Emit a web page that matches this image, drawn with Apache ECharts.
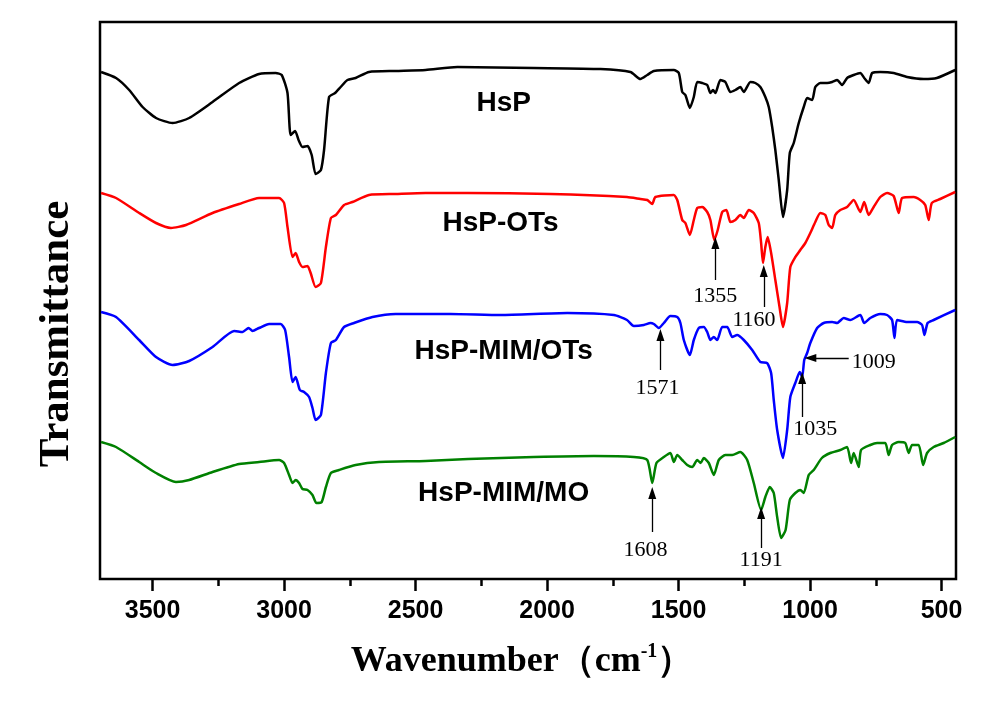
<html>
<head>
    <title>FTIR spectra</title>
    <script src="https://cdn.jsdelivr.net/npm/echarts@6/dist/echarts.min.js"></script>
</head>
<body style="margin:0;background:#fff;">
    <div id="main" style="width:990px;height:702px;"></div>
    <script type="text/javascript">
        // wavenumber (cm-1), transmittance (a.u., curves offset)
        var hsp = [[3696,507],[3639,501],[3589,489],[3538,472],[3487,461],[3424,456],[3361,461],[3272,477],[3171,496],[3095,505],[3032,506],[3009,504],[2987,486],[2975,444],[2958,448],[2945,439],[2930,432],[2911,433],[2895,424],[2880,405],[2860,409],[2848,429],[2829,482],[2806,486],[2785,492],[2759,499],[2728,501],[2677,507],[2576,508],[2462,509],[2341,512],[2051,511],[1797,510],[1683,507],[1645,500],[1619,504],[1594,508],[1518,509],[1499,506],[1486,487],[1474,484],[1457,471],[1442,482],[1429,497],[1410,496],[1391,494],[1379,486],[1369,489],[1360,486],[1341,499],[1322,497],[1303,487],[1284,489],[1265,492],[1252,487],[1227,497],[1208,496],[1189,492],[1170,482],[1157,472],[1144,452],[1132,429],[1119,399],[1103,362],[1087,389],[1077,426],[1062,436],[1043,456],[1024,472],[1011,481],[992,479],[980,492],[961,496],[935,496],[916,497],[897,499],[878,494],[859,501],[834,504],[809,506],[794,501],[777,496],[764,506],[733,507],[682,506],[631,502],[568,500],[518,501],[448,509]];

        var hspOts = [[3696,386],[3639,381],[3551,366],[3487,356],[3430,351],[3373,354],[3272,366],[3171,375],[3095,381],[3019,381],[3000,376],[2987,352],[2968,322],[2956,326],[2943,317],[2930,312],[2911,313],[2899,306],[2880,292],[2860,296],[2841,332],[2822,361],[2803,364],[2772,374],[2740,377],[2677,384],[2576,385],[2462,386],[2303,386],[1987,385],[1696,382],[1645,380],[1619,379],[1600,375],[1588,382],[1518,384],[1505,379],[1486,359],[1474,356],[1457,344],[1442,359],[1429,371],[1410,372],[1391,367],[1379,359],[1364,339],[1351,349],[1334,367],[1318,369],[1303,357],[1284,359],[1265,364],[1252,361],[1233,369],[1214,366],[1195,356],[1186,336],[1179,316],[1170,332],[1161,342],[1148,326],[1132,299],[1116,272],[1103,252],[1087,276],[1075,312],[1056,322],[1037,329],[1018,336],[999,346],[980,357],[961,366],[942,364],[929,354],[916,351],[904,364],[885,369],[859,372],[834,379],[809,367],[794,377],[777,364],[758,372],[733,382],[707,386],[682,383],[663,366],[650,381],[606,382],[581,379],[562,374],[549,359],[537,376],[505,380],[448,387]];

        var hspMimOts = [[3696,267],[3639,262],[3551,239],[3487,222],[3424,214],[3361,218],[3272,232],[3190,248],[3158,247],[3135,251],[3120,248],[3095,251],[3057,255],[3013,255],[2996,249],[2981,222],[2968,197],[2956,202],[2940,189],[2924,187],[2905,182],[2892,171],[2880,159],[2860,164],[2841,206],[2822,236],[2803,239],[2772,252],[2734,256],[2664,262],[2576,265],[2462,265],[2367,265],[2177,264],[1923,266],[1746,264],[1696,259],[1670,253],[1632,254],[1607,256],[1594,255],[1575,251],[1556,256],[1531,263],[1505,262],[1493,256],[1480,239],[1457,224],[1442,239],[1423,251],[1404,252],[1391,247],[1379,239],[1366,242],[1353,239],[1334,252],[1315,252],[1296,242],[1277,244],[1252,239],[1220,229],[1189,217],[1163,216],[1148,206],[1138,179],[1125,149],[1103,121],[1087,149],[1075,182],[1056,196],[1039,207],[1030,202],[1022,219],[1011,226],[999,236],[973,251],[948,256],[916,257],[897,256],[872,261],[847,259],[809,264],[794,256],[771,261],[733,265],[707,264],[688,259],[679,241],[669,259],[631,257],[593,257],[574,254],[565,244],[553,256],[530,259],[448,269]];

        var hspMimMo = [[3696,137],[3639,132],[3551,117],[3487,106],[3411,97],[3361,99],[3272,107],[3171,115],[3095,117],[3019,119],[3000,116],[2981,104],[2968,96],[2956,99],[2943,96],[2930,90],[2911,89],[2892,84],[2877,76],[2857,77],[2841,92],[2822,106],[2791,109],[2728,114],[2639,117],[2462,118],[2300,120],[2050,122],[1822,123],[1670,122],[1619,119],[1600,96],[1584,116],[1556,122],[1531,126],[1518,117],[1505,124],[1486,119],[1467,114],[1448,112],[1429,119],[1416,116],[1404,121],[1385,116],[1366,104],[1347,119],[1322,124],[1296,124],[1265,127],[1239,119],[1214,96],[1186,69],[1170,82],[1153,92],[1138,86],[1125,62],[1110,41],[1093,49],[1077,79],[1056,86],[1037,89],[1024,86],[1005,104],[986,109],[955,121],[923,126],[885,129],[859,132],[844,116],[834,126],[815,112],[806,129],[771,134],[745,136],[714,136],[701,124],[688,134],[663,137],[638,136],[625,126],[612,134],[587,134],[570,114],[555,126],[530,132],[492,136],[448,142]];

        var curveNames = ['HsP', 'HsP-OTs', 'HsP-MIM/OTs', 'HsP-MIM/MO'];
        var curveColors = ['#000000', '#ff0000', '#0000ff', '#008000'];
        var nameSpots = [[2165, 476], [2177, 356], [2165, 228], [2165, 86]];

        var majorTicks = [500, 1000, 1500, 2000, 2500, 3000, 3500];
        var minorTicks = [750, 1250, 1750, 2250, 2750, 3250];

        // peak marks: label text, arrow tail, arrow tip, label centre
        var peakText = ['1355', '1160', '1571', '1009', '1035', '1608', '1191'];
        var peakTail = [[1360, 299], [1176, 272], [1569, 209], [853, 221], [1030, 162], [1600, 47], [1186, 31]];
        var peakTip = [[1360, 336], [1176, 308], [1569, 244], [999, 221], [1030, 201], [1600, 86], [1186, 66]];
        var peakAt = [[1360, 283], [1213, 259], [1580, 191], [758, 217], [980, 150], [1626, 29], [1186, 19]];

        var serif = '"Liberation Serif", "Times New Roman", serif';
        var sans = '"Liberation Sans", Arial, sans-serif';

        var myChart = echarts.init(document.getElementById('main'));

        var curves = [hsp, hspOts, hspMimOts, hspMimMo];
        var series = curves.map(function (d, i) {
            return {
                type: 'line',
                name: curveNames[i],
                data: d,
                symbol: 'none',
                smooth: 0.2,
                silent: true,
                lineStyle: { color: curveColors[i], width: 2.5, join: 'round' },
                itemStyle: { color: curveColors[i] },
                markPoint: {
                    symbol: 'circle',
                    symbolSize: 0,
                    silent: true,
                    label: {
                        show: true, position: 'inside', formatter: '{b}', color: '#000',
                        fontFamily: sans, fontWeight: 'bold', fontSize: 28
                    },
                    data: [{ name: curveNames[i], coord: nameSpots[i] }]
                }
            };
        });

        var arrowData = [];
        var peakLabelData = [];
        for (var i = 0; i < peakText.length; i++) {
            arrowData.push([
                { coord: peakTail[i], symbol: 'none' },
                { coord: peakTip[i], symbol: 'triangle', symbolSize: [8, 12] }
            ]);
            peakLabelData.push({ name: peakText[i], coord: peakAt[i] });
        }
        series.push({
            type: 'line',
            name: 'peaks',
            data: hspMimMo,
            symbol: 'none',
            silent: true,
            lineStyle: { opacity: 0 },
            markLine: {
                silent: true,
                symbol: ['none', 'triangle'],
                lineStyle: { color: '#000', width: 1.3, type: 'solid' },
                itemStyle: { color: '#000' },
                label: { show: false },
                emphasis: { disabled: true },
                data: arrowData
            },
            markPoint: {
                symbol: 'circle',
                symbolSize: 0,
                silent: true,
                label: {
                    show: true, position: 'inside', formatter: '{b}', color: '#000',
                    fontFamily: serif, fontSize: 22
                },
                data: peakLabelData
            }
        });

        var option = {
            animation: false,
            backgroundColor: '#ffffff',
            grid: {
                left: 100, right: 34, top: 22, bottom: 123,
                show: true, borderColor: '#000', borderWidth: 2.5
            },
            xAxis: [
                {
                    type: 'value', inverse: true, min: 445, max: 3700, position: 'bottom',
                    axisLine: { show: false },
                    splitLine: { show: false },
                    axisTick: { show: true, customValues: majorTicks, length: 12, lineStyle: { color: '#000', width: 2.5 } },
                    axisLabel: {
                        customValues: majorTicks, margin: 20, color: '#000',
                        fontFamily: sans, fontWeight: 'bold', fontSize: 25,
                        formatter: function (v) { return String(v); }
                    }
                },
                {
                    type: 'value', inverse: true, min: 445, max: 3700, position: 'bottom',
                    axisLine: { show: false },
                    splitLine: { show: false },
                    axisTick: { show: true, customValues: minorTicks, length: 7, lineStyle: { color: '#000', width: 2.5 } },
                    axisLabel: { show: false }
                }
            ],
            yAxis: {
                type: 'value', min: 0, max: 557, show: false
            },
            graphic: [
                {
                    type: 'text', x: 57, y: 334, rotation: Math.PI / 2,
                    style: {
                        text: 'Transmittance', fill: '#000',
                        fontFamily: serif, fontWeight: 'bold', fontSize: 43,
                        align: 'center', verticalAlign: 'middle'
                    }
                },
                {
                    type: 'text', x: 522, y: 662,
                    style: {
                        text: '{a|Wavenumber（cm}{s|-1}{a|）}', fill: '#000',
                        align: 'center', verticalAlign: 'middle',
                        rich: {
                            a: { fontFamily: serif, fontWeight: 'bold', fontSize: 36, lineHeight: 40, fill: '#000' },
                            s: { fontFamily: serif, fontWeight: 'bold', fontSize: 20, verticalAlign: 'top', lineHeight: 40, fill: '#000' }
                        }
                    }
                }
            ],
            series: series
        };
        myChart.setOption(option);
    </script>
</body>
</html>
